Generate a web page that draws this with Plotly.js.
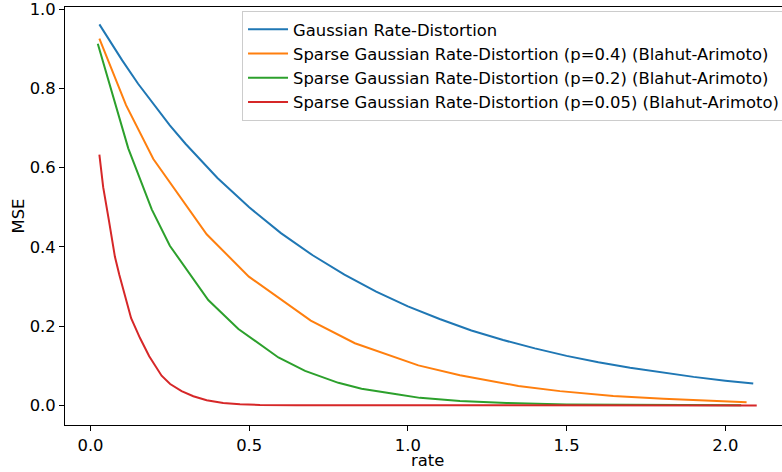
<!DOCTYPE html>
<html>
<head>
<meta charset="utf-8">
<script src="https://cdn.plot.ly/plotly-3.0.1.min.js"></script>
<style>html,body{margin:0;padding:0;background:#fff;}#chart{width:782px;height:472px;}</style>
</head>
<body>
<div id="chart"></div>
<script>
const seriesNames = [
  "Gaussian Rate-Distortion",
  "Sparse Gaussian Rate-Distortion (p=0.4) (Blahut-Arimoto)",
  "Sparse Gaussian Rate-Distortion (p=0.2) (Blahut-Arimoto)",
  "Sparse Gaussian Rate-Distortion (p=0.05) (Blahut-Arimoto)"
];
const gaussRate = [0.028,0.1,0.15,0.2,0.25,0.3,0.4,0.5,0.6,0.7,0.8,0.9,1.0,1.1,1.2,1.3,1.4,1.5,1.6,1.7,1.8,1.9,2.0,2.088];
const gaussMSE  = [0.962,0.871,0.812,0.758,0.707,0.660,0.574,0.500,0.435,0.379,0.330,0.287,0.250,0.218,0.189,0.165,0.144,0.125,0.109,0.095,0.083,0.072,0.0625,0.055];

const p04Rate = [0.028,0.112,0.198,0.366,0.499,0.694,0.833,1.033,1.164,1.348,1.479,1.647,1.805,1.92,2.067];
const p04MSE  = [0.926,0.758,0.622,0.432,0.325,0.214,0.157,0.101,0.076,0.049,0.036,0.024,0.017,0.013,0.008];

const p02Rate = [0.023,0.119,0.193,0.250,0.371,0.466,0.592,0.676,0.781,0.854,0.965,1.038,1.164,1.311,1.50,1.70,1.90,2.05];
const p02MSE  = [0.913,0.649,0.495,0.403,0.266,0.193,0.121,0.087,0.057,0.042,0.028,0.019,0.011,0.006,0.0025,0.0012,0.0006,0.0003];

const p005Rate = [0.028,0.040,0.058,0.077,0.091,0.128,0.156,0.185,0.224,0.251,0.287,0.324,0.366,0.418,0.471,0.534,0.65,1.0,1.5,2.099];
const p005MSE  = [0.633,0.551,0.467,0.375,0.329,0.220,0.170,0.124,0.075,0.054,0.036,0.023,0.013,0.006,0.003,0.001,0.0005,0.0001,0.0,0.0];

const xTicks = [0, 0.5, 1.0, 1.5, 2.0];
const xTickText = ["0.0","0.5","1.0","1.5","2.0"];
const yTicks = [0, 0.2, 0.4, 0.6, 0.8, 1.0];
const yTickText = ["0.0","0.2","0.4","0.6","0.8","1.0"];
const xLabel = "rate";
const yLabel = "MSE";

const colors = ["#1f77b4","#ff7f0e","#2ca02c","#d62728"];
const xs = [gaussRate,p04Rate,p02Rate,p005Rate];
const ys = [gaussMSE,p04MSE,p02MSE,p005MSE];

const traces = xs.map((x,i)=>({
  x: x, y: ys[i], type: "scatter", mode: "lines", name: seriesNames[i],
  line: {color: colors[i], width: 2}
}));

const font = {family: "DejaVu Sans, sans-serif", size: 16.4, color: "#000"};
const layout = {
  width: 782, height: 472,
  margin: {l: 65, r: 0, t: 7, b: 47, pad: 0, autoexpand: false},
  paper_bgcolor: "#fff", plot_bgcolor: "#fff",
  font: font,
  showlegend: true,
  legend: {x: 0.2469, y: 0.9905, xanchor: "left", yanchor: "top", itemwidth: 40,
           bgcolor: "rgba(255,255,255,0.8)", bordercolor: "#cccccc", borderwidth: 1,
           font: font},
  annotations: [{text: xLabel, xref: "paper", yref: "paper", x: 0.5049, y: -0.0845,
                 xanchor: "center", yanchor: "middle", showarrow: false, font: font}],
  xaxis: {range: [-0.0803, 2.1786], tickmode: "array", tickvals: xTicks, ticktext: xTickText,
          automargin: false,
          showgrid: false, zeroline: false, showline: true, linecolor: "#000", linewidth: 1,
          mirror: true, ticks: "outside", ticklen: 5, tickcolor: "#000"},
  yaxis: {range: [-0.0495, 1.0058], tickmode: "array", tickvals: yTicks, ticktext: yTickText,
          automargin: false,
          showgrid: false, zeroline: false, showline: true, linecolor: "#000", linewidth: 1,
          ticks: "outside", ticklen: 5, tickcolor: "#000",
          ticklabeloverflow: "allow",
          title: {text: yLabel, font: font, standoff: 0}}
};
Plotly.newPlot("chart", traces, layout, {displayModeBar: false, staticPlot: true});
</script>
</body>
</html>
